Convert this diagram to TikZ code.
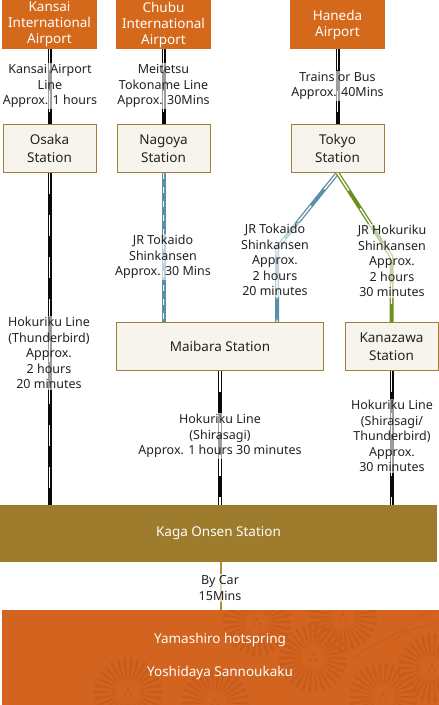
\documentclass[tikz,border=0pt]{standalone}
\usepackage{fontspec}
\setmainfont{Noto Sans}
\definecolor{airport}{HTML}{D5691B}
\definecolor{stfill}{HTML}{F7F4EE}
\definecolor{stborder}{HTML}{A07F3A}
\definecolor{kaga}{HTML}{9E7C2E}
\definecolor{dest}{HTML}{D2641F}
\definecolor{burst}{HTML}{C75C1D}
\definecolor{railblue}{HTML}{5B8FA5}
\definecolor{railgreen}{HTML}{6A9020}
\definecolor{railblack}{HTML}{0A0A0A}
\definecolor{goldline}{HTML}{B08D3E}
\definecolor{txt}{HTML}{222222}
\newcommand{\burstat}[2]{%
  \begin{scope}[shift={(#1,#2)}]
    \foreach \a in {0,12,...,348} \fill[burst] (\a-2.2:12pt) -- (\a+2.2:12pt) -- (\a+2.6:34pt) -- (\a-2.6:34pt) -- cycle;
    \fill[burst] (0,-3) circle (1.8pt) (-3,2) circle (1.8pt) (3,2) circle (1.8pt);
  \end{scope}}
\begin{document}
\begin{tikzpicture}[x=1pt,y=-1pt,
  font=\fontsize{12.5}{15.5}\selectfont,
  airportbox/.style={fill=airport, text=white, minimum width=95pt, minimum height=49pt, inner sep=0pt, align=center, font=\fontsize{13.5}{16}\selectfont},
  stationbox/.style={fill=stfill, draw=stborder, line width=1pt, text=txt, minimum height=48pt, inner sep=0pt, align=center, font=\fontsize{13.5}{18}\selectfont},
  lbl/.style={text=txt, align=center, inner sep=1.5pt, fill=white, fill opacity=0.6, text opacity=1},
  rail/.style={line width=4pt, draw=#1, postaction={draw=white, line width=1.4pt, dash pattern=on 21pt off 21pt}},
  railshort/.style={line width=4pt, draw=#1, postaction={draw=white, line width=1.4pt, dash pattern=on 6pt off 8pt}}]
\useasboundingbox (0,0) rectangle (439,705);

% boxes
\node[airportbox] (kansai) at (49.5,24.5) {Kansai\\International\\Airport};
\node[airportbox] (chubu) at (163.5,24.5) {Chubu\\International\\Airport};
\node[airportbox] (haneda) at (337.5,24.5) {Haneda\\Airport};
\node[stationbox, minimum width=93pt] (osaka) at (49.5,148.5) {Osaka\\Station};
\node[stationbox, minimum width=93pt] (nagoya) at (163.5,148.5) {Nagoya\\Station};
\node[stationbox, minimum width=93pt] (tokyo) at (337.5,148.5) {Tokyo\\Station};
\node[stationbox, minimum width=207pt] (maibara) at (220,346.5) {Maibara Station};
\node[stationbox, minimum width=93pt] (kanazawa) at (391.5,346.5) {Kanazawa\\Station};
\node[fill=kaga, text=white, minimum width=437pt, minimum height=57pt, inner sep=0pt, font=\fontsize{13.5}{16}\selectfont] (kaga) at (218.5,533.5) {Kaga Onsen Station};
\node[fill=dest, minimum width=437pt, minimum height=95pt, inner sep=0pt] (dest) at (220.5,657.5) {};

% decoration of the destination box
\begin{scope}
  \clip (2,610) rectangle (439,705);
  \burstat{128}{692}
  \burstat{313}{658}
  \burstat{383}{697}
  \burstat{432}{668}
  \burstat{257}{622}
  \burstat{343}{617}
  \burstat{215}{703}
  \draw[burst, line width=0.8pt] (352,660) .. controls (372,640) and (395,640) .. (415,620) .. controls (425,612) and (432,612) .. (439,608);
  \draw[burst, line width=0.8pt] (395,640) .. controls (410,625) and (425,628) .. (439,622);
\end{scope}
\node[text=white, inner sep=0pt, font=\fontsize{13.5}{16}\selectfont] (yama) at (220,640) {Yamashiro hotspring};
\node[text=white, inner sep=0pt, font=\fontsize{13.5}{16}\selectfont] (yoshi) at (220,673) {Yoshidaya Sannoukaku};

% connectors
\draw[rail=railblack] (kansai.south) -- (osaka.north);
\draw[rail=railblack] (chubu.south) -- (nagoya.north);
\draw[rail=railblack] (haneda.south) -- (tokyo.north);
\draw[rail=railblack] (osaka.south) -- (osaka.south |- kaga.north);
\draw[railshort=railblue] (nagoya.south) -- (nagoya.south |- maibara.north);
\coordinate (bendB) at (277,248);
\coordinate (bendG) at (391.5,257);
\draw[rail=railblue, line join=round] (tokyo.south) -- (bendB) -- (bendB |- maibara.north);
\draw[rail=railgreen, line join=round] (tokyo.south) -- (bendG) -- (kanazawa.north);
\draw[rail=railblack] (maibara.south) -- (maibara.south |- kaga.north);
\draw[rail=railblack] (kanazawa.south) -- (kanazawa.south |- kaga.north);
\draw[goldline, line width=2pt] (kaga.south -| dest.north) -- (dest.north);

% labels
\node[lbl] (l1) at (50,86) {Kansai Airport\\Line\\Approx. 1 hours};
\node[lbl] (l2) at (163.5,86) {Meitetsu\\Tokoname Line\\Approx. 30Mins};
\node[lbl] (l3) at (337.5,86) {Trains or Bus\\Approx. 40Mins};
\node[lbl] (l4) at (163,257) {JR Tokaido\\Shinkansen\\Approx. 30 Mins};
\node[lbl] (l5) at (275,260) {JR Tokaido\\Shinkansen\\Approx.\\2 hours\\20 minutes};
\node[lbl] (l6) at (392,261) {JR Hokuriku\\Shinkansen\\Approx.\\2 hours\\30 minutes};
\node[lbl] (l7) at (49,353) {Hokuriku Line\\(Thunderbird)\\Approx.\\2 hours\\20 minutes};
\node[lbl] (l8) at (220,436) {Hokuriku Line\\(Shirasagi)\\Approx. 1 hours 30 minutes};
\node[lbl] (l9) at (392,436) {Hokuriku Line\\(Shirasagi/\\Thunderbird)\\Approx.\\30 minutes};
\node[lbl] (l10) at (220,588) {By Car\\15Mins};
\end{tikzpicture}
\end{document}
